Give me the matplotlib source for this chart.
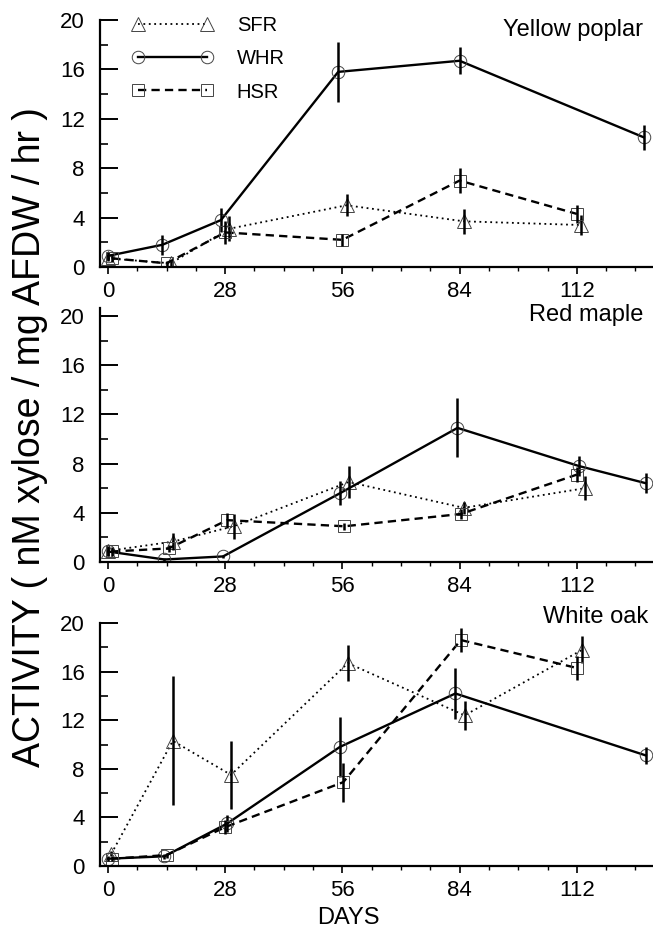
import numpy as np
import matplotlib.pyplot as plt
from matplotlib.ticker import MultipleLocator

plt.rcParams['font.family'] = ['Liberation Sans', 'DejaVu Sans']

# ------------------------------------
# Data (activity, nM xylose / mg AFDW / hr)
# ------------------------------------
panel_titles = ["Yellow poplar", "Red maple", "White oak"]
series_names = ["SFR", "WHR", "HSR"]
x_ticks = [0, 28, 56, 84, 112]

# Yellow poplar
yp_sfr_days = [0, 15, 29, 57, 85, 113]
yp_sfr_vals = [0.7, 0.3, 3.1, 5.0, 3.7, 3.4]
yp_sfr_err = [0.2, 0.2, 1.0, 0.9, 1.0, 0.8]
yp_whr_days = [0, 13, 27, 55, 84, 128]
yp_whr_vals = [0.9, 1.8, 3.8, 15.8, 16.7, 10.5]
yp_whr_err = [0.3, 0.8, 1.0, 2.4, 1.1, 1.0]
yp_hsr_days = [1, 14, 28, 56, 84, 112]
yp_hsr_vals = [0.7, 0.3, 2.8, 2.2, 7.0, 4.3]
yp_hsr_err = [0.3, 0.2, 0.9, 0.5, 1.0, 0.7]

# Red maple
rm_sfr_days = [0, 15.5, 30, 57.5, 85, 114]
rm_sfr_vals = [0.9, 1.65, 2.9, 6.5, 4.4, 6.0]
rm_sfr_err = [0.4, 0.7, 1.0, 1.3, 0.5, 1.0]
rm_whr_days = [0, 13.5, 27.5, 55.5, 83.5, 112.5, 128.5]
rm_whr_vals = [0.85, 0.2, 0.45, 5.6, 10.9, 7.8, 6.4]
rm_whr_err = [0.4, 0.1, 0.1, 1.0, 2.4, 0.8, 0.8]
rm_hsr_days = [1, 14.5, 28.5, 56.5, 84.3, 112]
rm_hsr_vals = [0.85, 1.1, 3.4, 2.9, 3.9, 7.1]
rm_hsr_err = [0.4, 0.3, 0.6, 0.3, 0.4, 0.6]

# White oak
wo_sfr_days = [0.8, 15.5, 29.4, 57.3, 85.2, 113.3]
wo_sfr_vals = [1.0, 10.3, 7.5, 16.7, 12.4, 17.8]
wo_sfr_err = [0.2, 5.3, 2.8, 1.5, 1.2, 1.1]
wo_whr_days = [0, 13.5, 28.5, 55.4, 83, 128.5]
wo_whr_vals = [0.6, 0.8, 3.5, 9.8, 14.2, 9.1]
wo_whr_err = [0.2, 0.2, 0.7, 2.5, 2.1, 0.7]
wo_hsr_days = [1, 14, 28, 56.2, 84.3, 112]
wo_hsr_vals = [0.6, 0.9, 3.2, 6.9, 18.6, 16.3]
wo_hsr_err = [0.2, 0.2, 0.6, 1.6, 1.0, 1.0]

panels = [
    [(yp_sfr_days, yp_sfr_vals, yp_sfr_err),
     (yp_whr_days, yp_whr_vals, yp_whr_err),
     (yp_hsr_days, yp_hsr_vals, yp_hsr_err)],
    [(rm_sfr_days, rm_sfr_vals, rm_sfr_err),
     (rm_whr_days, rm_whr_vals, rm_whr_err),
     (rm_hsr_days, rm_hsr_vals, rm_hsr_err)],
    [(wo_sfr_days, wo_sfr_vals, wo_sfr_err),
     (wo_whr_days, wo_whr_vals, wo_whr_err),
     (wo_hsr_days, wo_hsr_vals, wo_hsr_err)],
]

# line / marker styles per series
styles = [
    dict(ls=(0, (1, 2)), lw=1.3, marker='^', ms=10),
    dict(ls='-', lw=1.7, marker='o', ms=9),
    dict(ls=(0, (3.5, 2.2)), lw=1.7, marker='s', ms=8),
]

# ------------------------------------
# Figure layout (pixel-matched)
# ------------------------------------
fig = plt.figure(figsize=(6.53, 9.31), dpi=100)
axes_rects = [
    [0.1531, 0.7132, 0.8469, 0.2653],
    [0.1531, 0.3964, 0.8469, 0.2728],
    [0.1531, 0.0698, 0.8469, 0.2610],
]
ylims = [(0, 20), (0, 20.65), (0, 20)]
title_pos = [(0.985, 0.968), (0.985, 0.662), (0.993, 0.337)]

for i, rect in enumerate(axes_rects):
    ax = fig.add_axes(rect)
    for j, (d, v, e) in enumerate(panels[i]):
        st = styles[j]
        ax.plot(d, v, color='black', linestyle=st['ls'], linewidth=st['lw'],
                marker=st['marker'], markersize=st['ms'], markerfacecolor='none',
                markeredgecolor='#444444', markeredgewidth=0.7,
                label=series_names[j])
        ax.errorbar(d, v, yerr=e, fmt='none', ecolor='black',
                    elinewidth=1.8, capsize=0)

    ax.set_xlim(-1.9, 130.2)
    ax.set_ylim(*ylims[i])
    ax.spines['top'].set_visible(False)
    ax.spines['right'].set_visible(False)
    ax.spines['left'].set_linewidth(1.6)
    ax.spines['bottom'].set_linewidth(1.6)

    ax.set_xticks(x_ticks)
    ax.xaxis.set_minor_locator(MultipleLocator(7))
    ax.set_yticks([0, 4, 8, 12, 16, 20])
    ax.yaxis.set_minor_locator(MultipleLocator(2))
    ax.tick_params(axis='x', which='major', direction='out', length=5,
                   width=1.2, labelsize=16, pad=5)
    ax.tick_params(axis='x', which='minor', direction='out', length=3,
                   width=1.0)
    ax.tick_params(axis='y', which='major', direction='in', length=13,
                   width=1.4, labelsize=16, pad=11)
    ax.tick_params(axis='y', which='minor', direction='in', length=6,
                   width=1.2)

    fig.text(title_pos[i][0], title_pos[i][1], panel_titles[i],
             ha='right', va='center', fontsize=17)

    if i == 0:
        ax.legend(loc='upper left', bbox_to_anchor=(0.058, 1.015),
                  frameon=False, numpoints=2, handlelength=4.0,
                  handletextpad=1.2, labelspacing=0.7, borderpad=0,
                  borderaxespad=0, fontsize=14.5)

fig.text(0.534, 0.014, "DAYS", ha='center', va='center', fontsize=17)
fig.text(0.046, 0.531, "ACTIVITY ( nM xylose / mg AFDW / hr )",
         rotation=90, ha='center', va='center', fontsize=27,
         family=['Liberation Sans Narrow', 'Liberation Sans'])

plt.savefig('out.png', dpi=100)
